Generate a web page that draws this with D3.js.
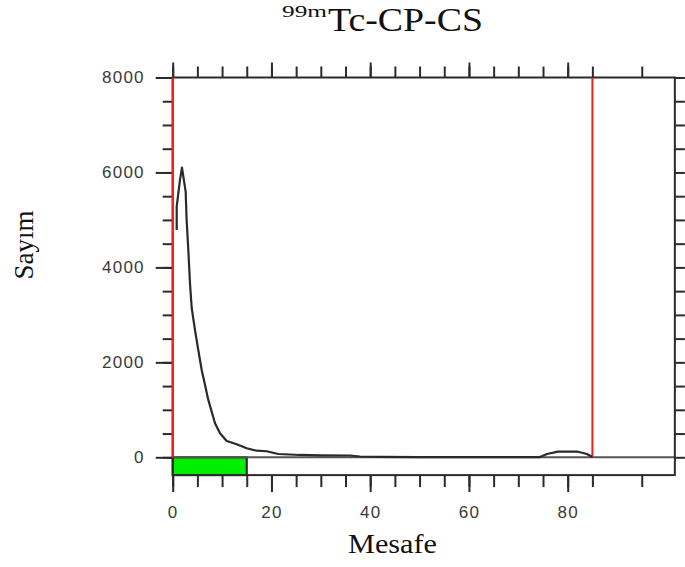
<!DOCTYPE html>
<html>
<head>
<meta charset="utf-8">
<script src="https://cdn.jsdelivr.net/npm/d3@7/dist/d3.min.js"></script>
<style>
  html, body { margin: 0; padding: 0; background: #fff; }
  svg { display: block; }
</style>
</head>
<body>
<svg id="chart" width="685" height="567"></svg>
<script>
// ---- data ----
const distance = [0.81, 0.81, 1.48, 1.88, 2.63, 2.8, 3.16, 3.5, 3.85, 4.52, 5.18, 5.87, 6.54, 7.21, 8.57, 9.58, 10.94, 12.96, 14.99, 17.01, 19.04, 21.39, 25.8, 30.0, 35.9, 37.9, 42.0, 50.0, 60.0, 70.0, 74.4, 75.8, 78.0, 82.1, 83.9, 85.0];
const counts   = [4790, 5280, 5850, 6100, 5590, 5045, 4370, 3670, 3145, 2680, 2260, 1840, 1526, 1209, 718, 507, 344, 274, 190, 139, 127, 70, 49, 42, 38, 17, 8, 5, 5, 5, 5, 70, 118, 118, 70, 5];
const yTickLabels = [0, 2000, 4000, 6000, 8000];
const yMinorTicks = d3.range(0, 8001, 500);
const xTickLabels = [0, 20, 40, 60, 80];
const xMinorTicks = [0, 5, 10, 15, 20, 25, 30, 35, 40, 45, 50, 55, 60, 65, 70, 75, 80, 85, 95];
const redMarkers = [0, 85];
const greenRegion = [0, 15];
const xExtent = [0, 101.7];
const yExtent = [-375, 8000];

// ---- layout ----
const svg = d3.select("#chart");
const x = d3.scaleLinear().domain([0, 100]).range([172.7, 666.45]);
const y = d3.scaleLinear().domain([0, 8000]).range([457.3, 77.5]);

const axisColor = "#2b2b2b";
const labelFont = "'Liberation Sans', Arial, sans-serif";
const serif = "'Liberation Serif', 'Times New Roman', serif";

// green region
svg.append("rect")
  .attr("x", x(greenRegion[0]))
  .attr("y", y(0))
  .attr("width", x(greenRegion[1]) - x(greenRegion[0]))
  .attr("height", y(yExtent[0]) - y(0))
  .attr("fill", "#00ee00")
  .attr("stroke", "#1a1a1a")
  .attr("stroke-width", 2);

// zero baseline
svg.append("line")
  .attr("x1", x(0)).attr("x2", x(xExtent[1]))
  .attr("y1", y(0)).attr("y2", y(0))
  .attr("stroke", "#555").attr("stroke-width", 2);

// frame
svg.append("rect")
  .attr("x", x(xExtent[0]))
  .attr("y", y(yExtent[1]))
  .attr("width", x(xExtent[1]) - x(xExtent[0]))
  .attr("height", y(yExtent[0]) - y(yExtent[1]))
  .attr("fill", "none")
  .attr("stroke", axisColor)
  .attr("stroke-width", 2);

function styleAxis(g) {
  g.select(".domain").remove();
  g.selectAll(".tick line").attr("stroke", axisColor).attr("stroke-width", 2);
  g.selectAll(".tick text")
    .attr("fill", "#3a3a3a")
    .style("font-family", labelFont)
    .style("font-size", "17px")
    .style("letter-spacing", "1.2px");
}

// bottom axis
svg.append("g").attr("transform", `translate(0,${y(yExtent[0])})`)
  .call(d3.axisBottom(x).tickValues(xMinorTicks).tickSize(12).tickFormat(""))
  .call(styleAxis);
svg.append("g").attr("transform", `translate(0,${y(yExtent[0])})`)
  .call(d3.axisBottom(x).tickValues(xTickLabels).tickSize(17).tickPadding(14).tickFormat(d3.format("d")))
  .call(styleAxis);

// top axis
svg.append("g").attr("transform", `translate(0,${y(yExtent[1])})`)
  .call(d3.axisTop(x).tickValues(xMinorTicks).tickSize(11).tickFormat(""))
  .call(styleAxis);
svg.append("g").attr("transform", `translate(0,${y(yExtent[1])})`)
  .call(d3.axisTop(x).tickValues(xTickLabels).tickSize(15).tickFormat(""))
  .call(styleAxis);

// left axis
svg.append("g").attr("transform", `translate(${x(0)},0)`)
  .call(d3.axisLeft(y).tickValues(yMinorTicks).tickSize(10).tickFormat(""))
  .call(styleAxis);
svg.append("g").attr("transform", `translate(${x(0)},0)`)
  .call(d3.axisLeft(y).tickValues(yTickLabels).tickSize(17).tickPadding(11).tickFormat(d3.format("d")))
  .call(styleAxis);

// right axis
svg.append("g").attr("transform", `translate(${x(xExtent[1])},0)`)
  .call(d3.axisRight(y).tickValues(yMinorTicks).tickSize(10).tickFormat(""))
  .call(styleAxis);

// red vertical markers
svg.selectAll("line.red").data(redMarkers).join("line")
  .attr("class", "red")
  .attr("x1", d => x(d)).attr("x2", d => x(d))
  .attr("y1", y(yExtent[1])).attr("y2", y(0))
  .attr("stroke", "#ff1a1a").attr("stroke-width", 2);

// curve
const pts = distance.map((d, i) => [d, counts[i]]);
svg.append("path")
  .datum(pts)
  .attr("d", d3.line().x(d => x(d[0])).y(d => y(d[1])))
  .attr("fill", "none")
  .attr("stroke", "#2a2a2a")
  .attr("stroke-width", 2.2)
  .attr("stroke-linejoin", "round");

// title
const title = svg.append("text")
  .style("font-family", serif)
  .attr("fill", "#111");
title.append("tspan")
  .attr("x", 282).attr("y", 17)
  .style("font-size", "17px")
  .attr("textLength", 45).attr("lengthAdjust", "spacingAndGlyphs")
  .text("99m");
title.append("tspan")
  .attr("x", 328).attr("y", 31)
  .style("font-size", "34px")
  .attr("textLength", 155).attr("lengthAdjust", "spacingAndGlyphs")
  .text("Tc-CP-CS");

// x axis title
svg.append("text")
  .attr("x", 348).attr("y", 553)
  .style("font-family", serif)
  .style("font-size", "28px")
  .attr("fill", "#111")
  .attr("textLength", 89).attr("lengthAdjust", "spacingAndGlyphs")
  .text("Mesafe");

// y axis title
svg.append("text")
  .attr("transform", "translate(33,245) rotate(-90)")
  .attr("text-anchor", "middle")
  .style("font-family", serif)
  .style("font-size", "27px")
  .attr("fill", "#111")
  .text("Sayım");
</script>
</body>
</html>
